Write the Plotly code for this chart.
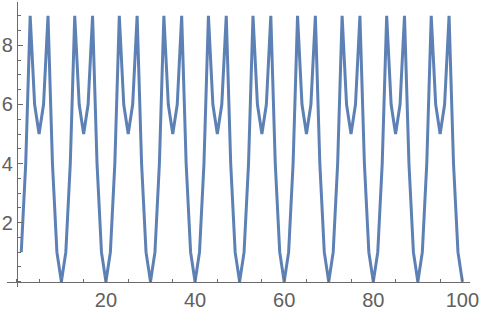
import plotly.graph_objects as go

x_values = list(range(1, 101))
y_values = [
    1, 4, 9, 6, 5, 6, 9, 4, 1, 0,
    1, 4, 9, 6, 5, 6, 9, 4, 1, 0,
    1, 4, 9, 6, 5, 6, 9, 4, 1, 0,
    1, 4, 9, 6, 5, 6, 9, 4, 1, 0,
    1, 4, 9, 6, 5, 6, 9, 4, 1, 0,
    1, 4, 9, 6, 5, 6, 9, 4, 1, 0,
    1, 4, 9, 6, 5, 6, 9, 4, 1, 0,
    1, 4, 9, 6, 5, 6, 9, 4, 1, 0,
    1, 4, 9, 6, 5, 6, 9, 4, 1, 0,
    1, 4, 9, 6, 5, 6, 9, 4, 1, 0,
]
x_ticks = [20, 40, 60, 80, 100]
y_ticks = [2, 4, 6, 8]

x_range = [-2.2, 101.7]
y_range = [-0.18, 9.47]

fig = go.Figure()
fig.add_trace(go.Scatter(
    x=x_values, y=y_values, mode="lines",
    line=dict(color="#5E81B5", width=3),
    hoverinfo="skip",
))

axis_color = "#6b6b6b"
font = dict(family="Liberation Sans, Arial, sans-serif", size=20, color="#606060")

fig.update_layout(
    width=482, height=316,
    margin=dict(l=7, r=12, t=1.5, b=29),
    paper_bgcolor="white", plot_bgcolor="white",
    showlegend=False,
    font=font,
    xaxis=dict(
        range=x_range, showgrid=False, zeroline=False,
        showline=True, linecolor=axis_color, linewidth=1,
        anchor="free", position=(0 - y_range[0]) / (y_range[1] - y_range[0]),
        tickmode="array", tickvals=x_ticks, ticktext=[str(v) for v in x_ticks],
        ticks="inside", ticklen=5, tickcolor=axis_color, tickwidth=1,
        minor=dict(ticks="inside", ticklen=3, dtick=5, tick0=0, tickcolor=axis_color, showgrid=False),
        tickfont=font,
    ),
    yaxis=dict(
        range=y_range, showgrid=False, zeroline=False,
        showline=True, linecolor=axis_color, linewidth=1,
        anchor="free", position=(0 - x_range[0]) / (x_range[1] - x_range[0]),
        tickmode="array", tickvals=y_ticks, ticktext=[str(v) for v in y_ticks],
        ticks="inside", ticklen=5, tickcolor=axis_color, tickwidth=1,
        minor=dict(ticks="inside", ticklen=3, dtick=0.5, tick0=0, tickcolor=axis_color, showgrid=False),
        tickfont=font,
    ),
)

fig.write_html("out.html")
